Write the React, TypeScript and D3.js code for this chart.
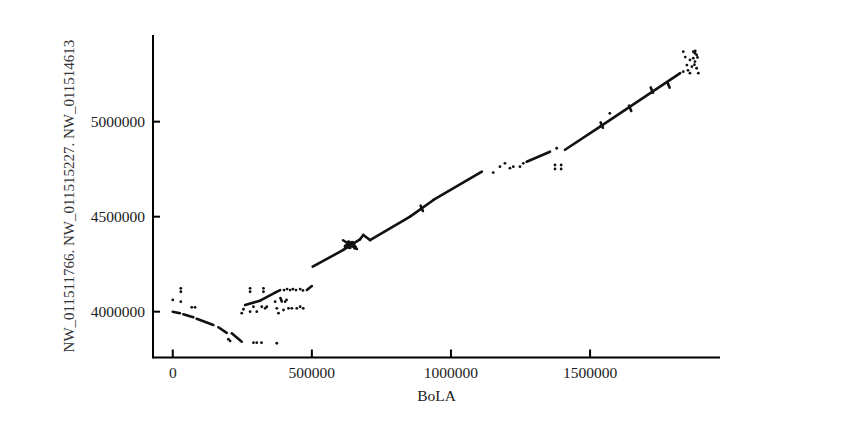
import React from "react";
import * as d3 from "d3";

const xTicks = [0, 500000, 1000000, 1500000];
const yTicks = [4000000, 4500000, 5000000];
const xDomain = [-71000, 1967000];
const yDomain = [3759000, 5456000];
const xTitle = "BoLA";
const yTitle = "NW_011511766. NW_011515227. NW_011514613";

// alignments drawn as segments [x1, y1, x2, y2]
const leftSegments = [
  [0, 4000000, 26000, 3992000],
  [38000, 3986000, 74000, 3971000],
  [86000, 3963000, 146000, 3930000],
  [164000, 3918000, 194000, 3889000],
  [212000, 3886000, 248000, 3842000],
  [260000, 4035000, 314000, 4058000],
  [314000, 4058000, 368000, 4100000],
  [368000, 4100000, 386000, 4114000],
  [482000, 4114000, 500000, 4135000],
  [387000, 4072000, 392000, 4054000],
];

const mainSegments = [
  [503000, 4237000, 613000, 4325000],
  [613000, 4325000, 673000, 4381000],
  [612000, 4376000, 662000, 4330000],
  [673000, 4381000, 685000, 4404000],
  [685000, 4404000, 709000, 4377000],
  [709000, 4377000, 853000, 4500000],
  [853000, 4500000, 937000, 4588000],
  [937000, 4588000, 1111000, 4737000],
  [1272000, 4789000, 1356000, 4842000],
  [1410000, 4852000, 1536000, 4974000],
  [1536000, 4974000, 1824000, 5255000],
];

const crossSegments = [
  [891000, 4558000, 899000, 4530000],
  [1538000, 4996000, 1546000, 4968000],
  [1640000, 5084000, 1648000, 5056000],
  [1718000, 5180000, 1726000, 5152000],
  [1778000, 5207000, 1786000, 5179000],
];

const leftPoints = [
  [29000, 4123000], [29000, 4105000], [0, 4062000], [29000, 4053000],
  [68000, 4023000], [80000, 4023000], [200000, 3855000], [206000, 3846000],
  [290000, 3837000], [302000, 3837000], [319000, 3837000], [374000, 3834000],
  [278000, 4123000], [278000, 4105000], [326000, 4123000], [326000, 4105000],
  [400000, 4114000], [411000, 4119000], [422000, 4114000], [432000, 4119000],
  [443000, 4114000], [458000, 4119000], [468000, 4112000],
  [409000, 4062000], [404000, 4053000], [368000, 4053000],
  [254000, 4013000], [290000, 4026000], [302000, 4000000], [320000, 4026000],
  [332000, 4018000], [338000, 4026000], [374000, 4018000], [380000, 3992000],
  [398000, 4009000], [416000, 4018000], [428000, 4018000], [446000, 4018000],
  [458000, 4026000], [469000, 4018000], [248000, 3992000], [278000, 4000000],
];

const blobPoints = [
  [628000, 4350000], [640000, 4358000], [650000, 4348000], [636000, 4340000],
  [645000, 4362000], [632000, 4365000], [655000, 4338000], [622000, 4343000],
];

const middlePoints = [
  [1152000, 4732000], [1176000, 4763000], [1194000, 4781000], [1212000, 4755000],
  [1224000, 4763000], [1248000, 4763000], [1260000, 4781000], [1380000, 4860000],
  [1374000, 4772000], [1374000, 4751000], [1396000, 4772000], [1396000, 4751000],
  [1571000, 5044000],
];

const topPoints = [
  [1835000, 5368000], [1871000, 5368000], [1877000, 5360000], [1883000, 5351000],
  [1859000, 5325000], [1877000, 5316000], [1848000, 5298000], [1866000, 5290000],
  [1883000, 5281000], [1835000, 5263000], [1859000, 5255000], [1889000, 5255000],
  [1871000, 5334000], [1878000, 5372000], [1886000, 5338000], [1842000, 5340000],
  [1852000, 5270000], [1875000, 5300000],
];

const W = 845;
const H = 427;
const left = 153;
const right = 720;
const top = 35;
const bottom = 357.5;
const font = "'Liberation Serif', 'Times New Roman', serif";

export default function App() {
  const x = d3.scaleLinear().domain(xDomain).range([left, right]);
  const y = d3.scaleLinear().domain(yDomain).range([bottom, top]);
  const segs = [...leftSegments, ...mainSegments, ...crossSegments];
  const pts = [...leftPoints, ...middlePoints, ...topPoints];
  const line = d3.line<number[]>().x((d) => x(d[0])).y((d) => y(d[1]));
  return (
    <svg
      width={W}
      height={H}
      style={{ position: "absolute", left: 0, top: 0, background: "#fff" }}
    >
      <g stroke="#111" strokeWidth={2.6} strokeLinecap="round" fill="none">
        {segs.map((s, i) => (
          <path key={i} d={line([[s[0], s[1]], [s[2], s[3]]]) || ""} />
        ))}
      </g>
      <g fill="#111">
        {pts.map((p, i) => (
          <circle key={i} cx={x(p[0])} cy={y(p[1])} r={1.4} />
        ))}
        {blobPoints.map((p, i) => (
          <circle key={"b" + i} cx={x(p[0])} cy={y(p[1])} r={2.2} />
        ))}
      </g>
      <g stroke="#000" strokeWidth={2}>
        <line x1={left} x2={left} y1={top} y2={bottom + 1} />
        <line x1={left} x2={right} y1={bottom} y2={bottom} />
        {xTicks.map((t) => (
          <line key={t} x1={x(t)} x2={x(t)} y1={bottom} y2={bottom - 8} />
        ))}
        {yTicks.map((t) => (
          <line key={t} x1={left} x2={left + 7} y1={y(t)} y2={y(t)} />
        ))}
      </g>
      <g fontFamily={font} fontSize={15.5} fill="#1a1a1a">
        {xTicks.map((t) => (
          <text key={t} x={x(t)} y={377.5} textAnchor="middle">
            {String(t)}
          </text>
        ))}
        {yTicks.map((t) => (
          <text key={t} x={145} y={y(t)} dy="0.35em" textAnchor="end">
            {String(t)}
          </text>
        ))}
        <text x={(left + right) / 2} y={401} textAnchor="middle">
          {xTitle}
        </text>
        <text
          transform={`translate(74,196) rotate(-90)`}
          textAnchor="middle"
          fontSize={15}
          fill="#333"
        >
          {yTitle}
        </text>
      </g>
    </svg>
  );
}
